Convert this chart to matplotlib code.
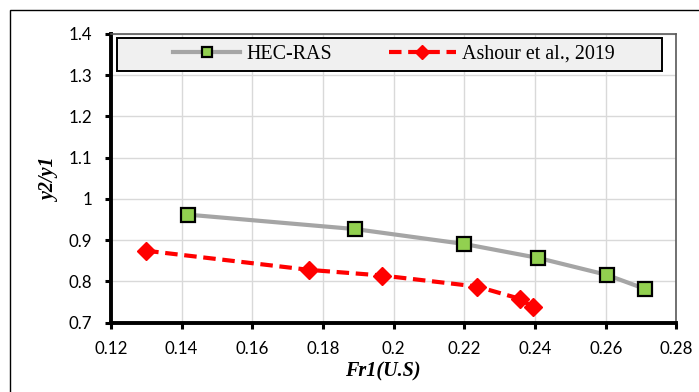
import matplotlib
matplotlib.use("Agg")
import matplotlib.pyplot as plt
from matplotlib.patches import Rectangle

# Data
hec_x = [0.1418, 0.1891, 0.2199, 0.2409, 0.2603, 0.2711]
hec_y = [0.962, 0.927, 0.891, 0.857, 0.816, 0.782]
ash_x = [0.1300, 0.1762, 0.1968, 0.2237, 0.2358, 0.2394]
ash_y = [0.8745, 0.828, 0.8144, 0.7876, 0.7577, 0.7375]
xticks = [0.12, 0.14, 0.16, 0.18, 0.2, 0.22, 0.24, 0.26, 0.28]
xtick_labels = ["0.12", "0.14", "0.16", "0.18", "0.2", "0.22", "0.24", "0.26", "0.28"]
yticks = [0.7, 0.8, 0.9, 1.0, 1.1, 1.2, 1.3, 1.4]
ytick_labels = ["0.7", "0.8", "0.9", "1", "1.1", "1.2", "1.3", "1.4"]
labels = ["HEC-RAS", "Ashour et al., 2019"]

W, H = 699, 392
fig = plt.figure(figsize=(W / 100, H / 100), dpi=100)
ax = fig.add_axes([110.8 / W, 1 - 322.7 / H, (676.4 - 110.8) / W, (322.7 - 34) / H])

ax.plot(hec_x, hec_y, color="#a5a5a5", lw=3, marker="s", markersize=10.5,
        markerfacecolor="#92d050", markeredgecolor="black", markeredgewidth=1.6,
        label=labels[0], zorder=3)
ax.plot(ash_x, ash_y, color="#ff0000", lw=3, linestyle=(0, (3, 1.6)),
        marker="D", markersize=9, markerfacecolor="#ff0000",
        markeredgecolor="#ff0000", label=labels[1], zorder=4)

ax.set_xlim(0.12, 0.28)
ax.set_ylim(0.7, 1.4)
ax.set_xticks(xticks)
ax.set_xticklabels(xtick_labels)
ax.set_yticks(yticks)
ax.set_yticklabels(ytick_labels)
ax.grid(True, color="#d9d9d9", lw=1)
ax.set_axisbelow(True)

for lab in ax.get_xticklabels() + ax.get_yticklabels():
    lab.set_fontfamily("Lato")
    lab.set_fontsize(12.2)
    lab.set_color("#000000")
ax.tick_params(axis="both", direction="out", length=4, width=2.2, pad=9.5, color="black")

ax.spines["left"].set_linewidth(2.8)
ax.spines["bottom"].set_linewidth(2.8)
ax.spines["left"].set_color("black")
ax.spines["bottom"].set_color("black")
for s in ["top", "right"]:
    ax.spines[s].set_linewidth(1.2)
    ax.spines[s].set_color("#595959")

ax.set_xlabel("Fr1(U.S)", fontfamily="Liberation Serif", fontweight="bold",
              fontstyle="italic", fontsize=14.5)
ax.set_ylabel("y2/y1", fontfamily="Liberation Serif", fontweight="bold",
              fontstyle="italic", fontsize=14.5)
ax.xaxis.set_label_coords((383 - 110.8) / (676.4 - 110.8), -(361 - 322.7) / (322.7 - 34))
ax.yaxis.set_label_coords(-(110.8 - 60) / (676.4 - 110.8), (322.7 - 180.5) / (322.7 - 34))

# Legend box
fig.patches.append(Rectangle((117 / W, 1 - 71 / H), (662 - 117) / W, (71 - 38) / H,
                             transform=fig.transFigure, facecolor="#f0f0f0",
                             edgecolor="black", lw=1.4, zorder=5))
leg = fig.legend(loc="center", bbox_to_anchor=(394 / W, 1 - 54.5 / H), ncol=2,
                 frameon=False, prop={"family": "Liberation Serif", "size": 14.4},
                 handlelength=3.35, handletextpad=0.3, columnspacing=2.85,
                 markerscale=0.75, borderpad=0, borderaxespad=0)
leg.set_zorder(6)

# Outer chart border
fig.patches.append(Rectangle((10 / W, -0.5), 1.5, 1.5 - 10 / H,
                             transform=fig.transFigure, facecolor="none",
                             edgecolor="black", lw=1.0, zorder=10))

fig.savefig("out.png", dpi=100)
